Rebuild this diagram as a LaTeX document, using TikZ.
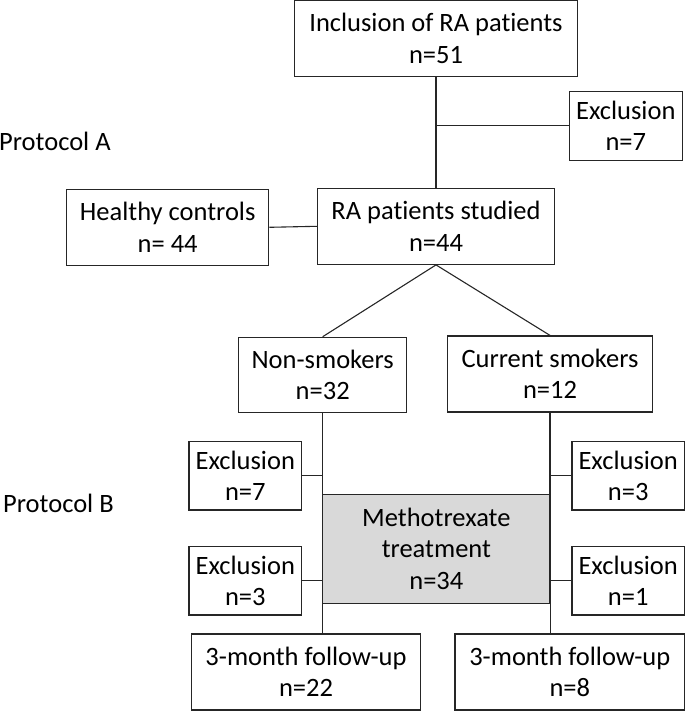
\documentclass[tikz,border=0pt]{standalone}
\usepackage{fontspec}
\setmainfont{Carlito}[RawFeature={-liga;-dlig;-calt;-clig}]
\begin{document}
\begin{tikzpicture}[x=1pt,y=-1pt,
  box/.style={draw=black!85, line width=1.2pt, fill=white, align=center, inner sep=0pt,
    font=\fontsize{26.5}{31.5}\selectfont},
  grey/.style={box, fill=black!15},
  lbl/.style={inner sep=0pt, anchor=west, font=\fontsize{26.5}{31.5}\selectfont},
  conn/.style={draw=black!85, line width=1.1pt}]
\useasboundingbox (0,0) rectangle (685,711);
% nodes
\node[box, minimum width=283pt, minimum height=76pt] (incl) at (436,38.6) {Inclusion of RA patients\\n=51};
\node[box, minimum width=113pt, minimum height=69pt] (ex0) at (625.8,125.8) {Exclusion\\n=7};
\node[lbl] (pA) at (-1,141) {Protocol A};
\node[box, minimum width=202pt, minimum height=76pt] (hc) at (167.7,227.3) {Healthy controls\\n= 44};
\node[box, minimum width=236.6pt, minimum height=76pt] (ra) at (436,226.3) {RA patients studied\\n=44};
\node[box, minimum width=168pt, minimum height=75.4pt] (ns) at (322.7,375) {Non-smokers\\n=32};
\node[box, minimum width=204.6pt, minimum height=76pt] (cs) at (550,374) {Current smokers\\n=12};
\node[lbl] (pB) at (3,503.5) {Protocol B};
\node[box, minimum width=112.7pt, minimum height=68.3pt] (exL1) at (245.3,475.8) {Exclusion\\n=7};
\node[box, minimum width=112.5pt, minimum height=68.3pt] (exR1) at (628.2,475.8) {Exclusion\\n=3};
\node[grey, minimum width=227.3pt, minimum height=109pt] (mtx) at (436.35,548.8) {Methotrexate\\treatment\\n=34};
\node[box, minimum width=112.7pt, minimum height=68.3pt] (exL2) at (245.3,580.8) {Exclusion\\n=3};
\node[box, minimum width=112.5pt, minimum height=68.3pt] (exR2) at (628.2,580.8) {Exclusion\\n=1};
\node[box, minimum width=228.6pt, minimum height=76pt] (fuL) at (306,672) {3-month follow-up\\n=22};
\node[box, minimum width=229.5pt, minimum height=76pt] (fuR) at (569.8,672) {3-month follow-up\\n=8};
% connectors
\draw[conn] (incl.south) -- (ra.north);
\draw[conn] (ex0.west) -- (ex0.west -| incl.south);
\draw[conn] (hc.east) -- (ra.west);
\draw[conn] (ra.south) -- (ns.north);
\draw[conn] (ra.south) -- (cs.north);
\draw[conn] (ns.south) -- (ns.south |- mtx.north);
\draw[conn] (cs.south) -- (cs.south |- mtx.north);
\draw[conn] (exL1.east) -- (exL1.east -| ns.south);
\draw[conn] (exR1.west) -- (exR1.west -| cs.south);
\draw[conn] (exL2.east) -- (exL2.east -| mtx.west);
\draw[conn] (exR2.west) -- (exR2.west -| mtx.east);
\draw[conn] (mtx.south west) -- (mtx.south west |- fuL.north);
\draw[conn] (mtx.south east) -- (mtx.south east |- fuR.north);
\end{tikzpicture}
\end{document}
